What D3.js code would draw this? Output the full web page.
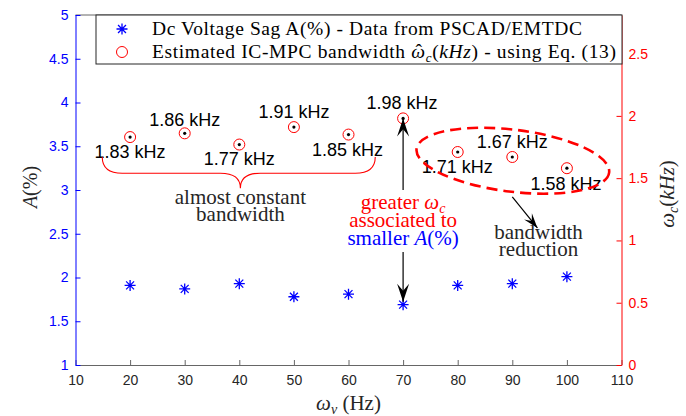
<!DOCTYPE html>
<html>
<head>
<meta charset="utf-8">
<script src="https://cdn.jsdelivr.net/npm/d3@7"></script>
<style>
  body { margin: 0; background: #fff; }
  .tick text { font-family: "Liberation Sans", Arial, sans-serif; font-size: 14px; }
  .serif { font-family: "Liberation Serif", "Times New Roman", serif; }
  .sans { font-family: "Liberation Sans", Arial, sans-serif; }
</style>
</head>
<body>
<div id="main"></div>
<script>
// data
var freqs = [20, 30, 40, 50, 60, 70, 80, 90, 100];
var sagA = [1.91, 1.87, 1.93, 1.78, 1.81, 1.69, 1.91, 1.93, 2.01];
var bandwidth = [1.83, 1.86, 1.77, 1.91, 1.85, 1.98, 1.71, 1.67, 1.58];
var bwLabels = ["1.83 kHz", "1.86 kHz", "1.77 kHz", "1.91 kHz", "1.85 kHz", "1.98 kHz", "1.71 kHz", "1.67 kHz", "1.58 kHz"];
var xTicks = [10, 20, 30, 40, 50, 60, 70, 80, 90, 100, 110];
var yLeftTicks = [1, 1.5, 2, 2.5, 3, 3.5, 4, 4.5, 5];
var yRightTicks = [0, 0.5, 1, 1.5, 2, 2.5];

const w = 686;
const h = 416;
const padL = 75.5, padR = 621.5, padT = 15, padB = 365;

const svg = d3.select("#main").append("svg").attr("width", w).attr("height", h);

const xScale = d3.scaleLinear().domain([10, 110]).range([padL, padR]);
const yL = d3.scaleLinear().domain([1, 5]).range([padB, padT]);
const yR = d3.scaleLinear().domain([0, 2.81]).range([padB, padT]);
const fmt = d => String(d);

// top box line
svg.append("line").attr("x1", padL).attr("x2", padR).attr("y1", padT).attr("y2", padT)
    .attr("stroke", "#666").attr("stroke-width", 1);

// axes
const xAxis = d3.axisBottom(xScale).tickValues(xTicks).tickFormat(fmt).tickSizeInner(-5).tickSizeOuter(0).tickPadding(10);
const gx = svg.append("g").attr("transform", "translate(0," + padB + ")").call(xAxis);
gx.select(".domain").attr("stroke", "#666");
gx.selectAll(".tick line").attr("stroke", "#666");
gx.selectAll(".tick text").attr("fill", "#262626");

const yAxisL = d3.axisLeft(yL).tickValues(yLeftTicks).tickFormat(fmt).tickSizeInner(-5).tickSizeOuter(0).tickPadding(7);
const gl = svg.append("g").attr("transform", "translate(" + padL + ",0)").call(yAxisL);
gl.selectAll("line,path").attr("stroke", "#0000ff");
gl.selectAll(".tick text").attr("fill", "#0000ff");

const yAxisR = d3.axisRight(yR).tickValues(yRightTicks).tickFormat(fmt).tickSizeInner(-5).tickSizeOuter(0).tickPadding(7);
const gr = svg.append("g").attr("transform", "translate(" + padR + ",0)").call(yAxisR);
gr.selectAll("line,path").attr("stroke", "#ff0000");
gr.selectAll(".tick text").attr("fill", "#ff0000");

// axis titles
svg.append("text").attr("class", "serif").attr("x", xScale(60)).attr("y", 410)
    .attr("text-anchor", "middle").style("font-size", "21px").attr("fill", "#262626")
    .html('<tspan font-style="italic">ω</tspan><tspan font-style="italic" font-size="14px" dy="4">v</tspan><tspan dy="-4"> (Hz)</tspan>');

svg.append("text").attr("class", "serif")
    .attr("transform", "translate(37,187) rotate(-90)")
    .attr("text-anchor", "middle").style("font-size", "20px").attr("fill", "#262626")
    .html('<tspan font-style="italic">A</tspan>(%)');

svg.append("text").attr("class", "serif")
    .attr("transform", "translate(674,194) rotate(-90)")
    .attr("text-anchor", "middle").style("font-size", "21px").attr("fill", "#262626")
    .html('<tspan font-style="italic">ω</tspan><tspan font-style="italic" font-size="14px" dy="4">c</tspan><tspan dy="-4">(</tspan><tspan font-style="italic">kHz</tspan>)');

// star marker
function star(sel, size, color) {
    var s = size;
    var d = "M" + (-s) + ",0L" + s + ",0M0," + (-s) + "L0," + s +
        "M" + (-s * 0.72) + "," + (-s * 0.72) + "L" + (s * 0.72) + "," + (s * 0.72) +
        "M" + (-s * 0.72) + "," + (s * 0.72) + "L" + (s * 0.72) + "," + (-s * 0.72);
    sel.append("path").attr("d", d).attr("stroke", color).attr("stroke-width", 1.3).attr("fill", "none");
}

// blue stars
svg.selectAll("g.star").data(freqs).enter().append("g").attr("class", "star")
    .attr("transform", (d, i) => "translate(" + xScale(d) + "," + yL(sagA[i]) + ")")
    .each(function () { star(d3.select(this), 5.5, "#0000ff"); });

// red circles with black dot
svg.selectAll("circle.bw").data(freqs).enter().append("circle").attr("class", "bw")
    .attr("cx", d => xScale(d)).attr("cy", (d, i) => yR(bandwidth[i]))
    .attr("r", 5.5).attr("fill", "none").attr("stroke", "#ff0000").attr("stroke-width", 1);
svg.selectAll("circle.dot").data(freqs).enter().append("circle").attr("class", "dot")
    .attr("cx", d => xScale(d)).attr("cy", (d, i) => yR(bandwidth[i]))
    .attr("r", 1.6).attr("fill", "#000");

// value labels (offsets in px relative to point)
var labelOffsets = [[0, 21], [0, -7.5], [0, 20.5], [0, -9], [-1, 21.5], [-1, -9], [-0.5, 21], [0, -9], [-1, 22]];
svg.selectAll("text.bwl").data(freqs).enter().append("text").attr("class", "bwl sans")
    .attr("x", (d, i) => xScale(d) + labelOffsets[i][0])
    .attr("y", (d, i) => yR(bandwidth[i]) + labelOffsets[i][1])
    .attr("text-anchor", "middle").style("font-size", "18px").attr("fill", "#000")
    .text((d, i) => bwLabels[i]);

// legend
const lg = svg.append("g");
lg.append("rect").attr("x", 96).attr("y", padT).attr("width", 526).attr("height", 49)
    .attr("fill", "#fff").attr("stroke", "#262626").attr("stroke-width", 1);
const s1 = lg.append("g").attr("transform", "translate(122,29)");
star(s1, 5.5, "#0000ff");
lg.append("circle").attr("cx", 122).attr("cy", 52).attr("r", 5.5).attr("fill", "none").attr("stroke", "#ff0000");
lg.append("text").attr("class", "serif").attr("x", 152).attr("y", 35).style("font-size", "19.5px").attr("fill", "#000")
    .attr("textLength", 430).attr("lengthAdjust", "spacing")
    .text("Dc Voltage Sag A(%) - Data from PSCAD/EMTDC");
lg.append("text").attr("class", "serif").attr("x", 152).attr("y", 58).style("font-size", "19.5px").attr("fill", "#000")
    .attr("textLength", 464).attr("lengthAdjust", "spacing")
    .html('Estimated IC-MPC bandwidth <tspan font-style="italic">ω</tspan><tspan dx="-10" dy="-1">ˆ</tspan><tspan font-style="italic" font-size="13px" dx="3" dy="5">c</tspan><tspan dy="-4">(</tspan><tspan font-style="italic">kHz</tspan>) - using Eq. (13)');

// curly brace under the almost-constant group
var bx0 = xScale(14.9), bx1 = xScale(64.9), bxm = xScale(40.2);
var by0 = yR(1.67), by1 = yR(1.54), by2 = yR(1.42);
var brace = d3.path();
brace.moveTo(bx0, by0);
brace.quadraticCurveTo(bx0, by1, bx0 + 20, by1);
brace.lineTo(bxm - 20, by1);
brace.quadraticCurveTo(bxm, by1, bxm, by2);
brace.quadraticCurveTo(bxm, by1, bxm + 20, by1);
brace.lineTo(bx1 - 20, by1);
brace.quadraticCurveTo(bx1, by1, bx1, by0);
svg.append("path").attr("d", brace.toString()).attr("fill", "none").attr("stroke", "#ff0000").attr("stroke-width", 1.1);

svg.append("text").attr("class", "serif").attr("x", bxm).attr("y", 204).attr("text-anchor", "middle")
    .style("font-size", "21px").attr("fill", "#262626").text("almost constant");
svg.append("text").attr("class", "serif").attr("x", bxm).attr("y", 221).attr("text-anchor", "middle")
    .style("font-size", "21px").attr("fill", "#262626").text("bandwidth");

// arrowhead (vback style)
function arrow(x1, y1, x2, y2, len, wid) {
    svg.append("line").attr("x1", x1).attr("y1", y1).attr("x2", x2).attr("y2", y2)
        .attr("stroke", "#000").attr("stroke-width", 1.2);
    var a = Math.atan2(y2 - y1, x2 - x1);
    var ca = Math.cos(a), sa = Math.sin(a);
    function pt(u, v) { return [x2 + u * ca - v * sa, y2 + u * sa + v * ca]; }
    var p = [pt(0, 0), pt(-len, -wid), pt(-len * 0.6, 0), pt(-len, wid)];
    svg.append("path").attr("d", "M" + p.map(q => q.join(",")).join("L") + "Z").attr("fill", "#000");
}
var x70 = xScale(70);
arrow(x70, 190, x70, yR(1.98), 18, 6);
arrow(x70, 252, x70, yL(1.69) - 3, 18, 6);

svg.append("text").attr("class", "serif").attr("x", x70).attr("y", 209).attr("text-anchor", "middle")
    .style("font-size", "21px").attr("fill", "#ff0000")
    .html('greater <tspan font-style="italic">ω</tspan><tspan font-style="italic" font-size="14px" dy="4">c</tspan>');
svg.append("text").attr("class", "serif").attr("x", x70).attr("y", 227).attr("text-anchor", "middle")
    .style("font-size", "21px").attr("fill", "#ff0000").text("associated to");
svg.append("text").attr("class", "serif").attr("x", x70).attr("y", 245).attr("text-anchor", "middle")
    .style("font-size", "21px").attr("fill", "#0000ff")
    .html('smaller <tspan font-style="italic">A</tspan>(%)');

// dashed ellipse around reduction group
var ex = xScale(90.1), ey = yR(1.64);
svg.append("ellipse").attr("cx", 0).attr("cy", 0).attr("rx", 97).attr("ry", 31)
    .attr("transform", "translate(" + ex + "," + ey + ") rotate(7)")
    .attr("fill", "none").attr("stroke", "#ff0000").attr("stroke-width", 2.6)
    .attr("stroke-dasharray", "11,6");

arrow(xScale(90), yR(1.35), xScale(94.6), yR(1.10), 15, 5);
svg.append("text").attr("class", "serif").attr("x", xScale(94.8)).attr("y", 239).attr("text-anchor", "middle")
    .style("font-size", "21px").attr("fill", "#262626").text("bandwidth");
svg.append("text").attr("class", "serif").attr("x", xScale(94.8)).attr("y", 256).attr("text-anchor", "middle")
    .style("font-size", "21px").attr("fill", "#262626").text("reduction");
</script>
</body>
</html>
